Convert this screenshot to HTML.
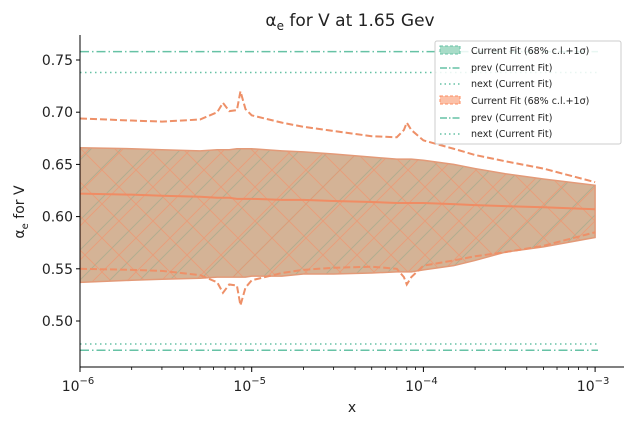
<!DOCTYPE html>
<html><head><meta charset="utf-8">
<style>
body{margin:0;background:#fff;}
svg text{font-family:"DejaVu Sans","Liberation Sans",sans-serif;fill:#222;}
</style></head>
<body>
<svg id="chart" width="633" height="425" viewBox="0 0 633 425" xmlns="http://www.w3.org/2000/svg">
<defs>
<pattern id="hatchG" patternUnits="userSpaceOnUse" width="30" height="30">
<path d="M0,30 L30,0 M-6,6 L6,-6 M24,36 L36,24" stroke="#9aa88a" stroke-width="1" opacity="0.6"/>
</pattern>
<pattern id="hatchO" patternUnits="userSpaceOnUse" width="34" height="34">
<path d="M0,34 L34,0 M-6,6 L6,-6 M28,40 L40,28 M0,0 L34,34 M-6,28 L6,40 M28,-6 L40,6" stroke="#ee9570" stroke-width="1" opacity="0.7"/>
</pattern>
<clipPath id="plotclip"><rect x="80" y="20" width="544" height="347"/></clipPath>
</defs>
<text x="350" y="26" font-size="17" text-anchor="middle">α<tspan font-size="12" dy="4">e</tspan><tspan dy="-4"> for V at 1.65 Gev</tspan></text>
<g id="plot" clip-path="url(#plotclip)"></g>
<g id="axes"></g>
<text x="352" y="412" font-size="14" text-anchor="middle">x</text>
<text transform="translate(24,212) rotate(-90)" font-size="14" text-anchor="middle">α<tspan font-size="10" dy="4">e</tspan><tspan dy="-4"> for V</tspan></text>
<g id="legend">
<rect x="435" y="41" width="186" height="103" fill="#fff" fill-opacity="0.85" stroke="#ccc" rx="2"/>
<rect x="440" y="46" width="20" height="8" fill="#a8dcc8" stroke="#66c2a5" stroke-dasharray="3,2"/>
<text x="471" y="54" font-size="9.5">Current Fit (68% c.l.+1σ)</text>
<line x1="440" y1="68" x2="460" y2="68" stroke="#66c2a5" stroke-width="1.5" stroke-dasharray="7,2,1.5,2"/>
<text x="471" y="71" font-size="9.5">prev (Current Fit)</text>
<line x1="440" y1="84" x2="460" y2="84" stroke="#66c2a5" stroke-width="1.5" stroke-dasharray="1.5,3"/>
<text x="471" y="87" font-size="9.5">next (Current Fit)</text>
<rect x="440" y="96" width="20" height="8" fill="#fcc1a8" stroke="#fc8d62" stroke-dasharray="3,2"/>
<text x="471" y="104" font-size="9.5">Current Fit (68% c.l.+1σ)</text>
<line x1="440" y1="118" x2="460" y2="118" stroke="#66c2a5" stroke-width="1.5" stroke-dasharray="7,2,1.5,2"/>
<text x="471" y="121" font-size="9.5">prev (Current Fit)</text>
<line x1="440" y1="134" x2="460" y2="134" stroke="#66c2a5" stroke-width="1.5" stroke-dasharray="1.5,3"/>
<text x="471" y="137" font-size="9.5">next (Current Fit)</text>
</g>
</svg>
<script>
const xs      = [1e-6,2e-6,3e-6,5e-6,6.3e-6,6.8e-6,7.4e-6,8.2e-6,8.6e-6,9.2e-6,1e-5,1.5e-5,2e-5,3e-5,5e-5,7e-5,7.7e-5,8e-5,8.5e-5,1e-4,1.5e-4,2e-4,3e-4,5e-4,1e-3];
const bandHi  = [0.666,0.665,0.664,0.663,0.664,0.664,0.664,0.665,0.665,0.665,0.665,0.663,0.662,0.660,0.657,0.655,0.655,0.655,0.655,0.654,0.650,0.646,0.641,0.636,0.630];
const bandLo  = [0.537,0.539,0.540,0.541,0.542,0.542,0.542,0.542,0.542,0.542,0.543,0.543,0.545,0.545,0.546,0.547,0.547,0.547,0.547,0.549,0.553,0.558,0.566,0.571,0.580];
const central = [0.622,0.621,0.620,0.619,0.618,0.618,0.618,0.617,0.617,0.617,0.617,0.616,0.616,0.615,0.614,0.613,0.613,0.613,0.613,0.613,0.612,0.611,0.610,0.609,0.607];
const dashHi  = [0.694,0.692,0.691,0.693,0.700,0.709,0.701,0.702,0.720,0.703,0.697,0.690,0.686,0.682,0.677,0.676,0.683,0.690,0.683,0.673,0.665,0.659,0.653,0.646,0.633];
const dashLo  = [0.550,0.549,0.548,0.544,0.537,0.527,0.535,0.534,0.515,0.532,0.539,0.546,0.549,0.551,0.552,0.550,0.542,0.535,0.542,0.553,0.558,0.562,0.566,0.572,0.585];
const refPrev = [0.758,0.472];
const refNext = [0.738,0.478];
const yTicks  = [0.50,0.55,0.60,0.65,0.70,0.75];
const yTickLabels = ["0.50","0.55","0.60","0.65","0.70","0.75"];
const xDecades = [-6,-5,-4,-3];

const NS="http://www.w3.org/2000/svg";
function X(v){return 80+(Math.log10(v)+6)*171.7;}
function Y(v){return 60+(0.75-v)*1044;}
function mk(tag,attrs,parent){const e=document.createElementNS(NS,tag);for(const k in attrs)e.setAttribute(k,attrs[k]);parent.appendChild(e);return e;}
const plot=document.getElementById('plot');
const axes=document.getElementById('axes');

refPrev.forEach(v=>{
  const l=mk('line',{x1:80,x2:598,y1:Y(v),y2:Y(v),stroke:'#66c2a5','stroke-width':1.5,'stroke-dasharray':'9,3,1.5,3'},plot);
  
  
});
refNext.forEach(v=>{
  const l=mk('line',{x1:80,x2:598,y1:Y(v),y2:Y(v),stroke:'#66c2a5','stroke-width':1.5,'stroke-dasharray':'1.5,3.5'},plot);
  
  
});

let d='M'+xs.map((x,i)=>X(x)+','+Y(bandHi[i])).join(' L');
for(let i=xs.length-1;i>=0;i--) d+=' L'+X(xs[i])+','+Y(bandLo[i]);
d+=' Z';
const b1=mk('path',{d:d,fill:'#d4b396',stroke:'none'},plot);


mk('path',{d:d,fill:'url(#hatchG)'},plot);
const b2=mk('path',{d:d,fill:'url(#hatchO)',stroke:'#e39a78','stroke-width':1.5},plot);



function line(arr,attrs,name){
  const p=mk('path',Object.assign({d:'M'+xs.map((x,i)=>X(x)+','+Y(arr[i])).join(' L'),fill:'none'},attrs),plot);
  
  
}
line(central,{stroke:'#f08c64','stroke-width':2},'central-line');
line(dashHi,{stroke:'#ee9068','stroke-width':2,'stroke-dasharray':'7,3'},'upper-dashed');
line(dashLo,{stroke:'#ee9068','stroke-width':2,'stroke-dasharray':'7,3'},'lower-dashed');

mk('line',{x1:80,x2:80,y1:35,y2:367,stroke:'#000','stroke-width':1},axes);
mk('line',{x1:80,x2:624,y1:367,y2:367,stroke:'#000','stroke-width':1},axes);
yTicks.forEach((v,i)=>{
  mk('line',{x1:76,x2:80,y1:Y(v),y2:Y(v),stroke:'#000'},axes);
  const t=mk('text',{x:73,y:Y(v)+5,'font-size':14,'text-anchor':'end'},axes);
  t.textContent=yTickLabels[i];
  
  
});
xDecades.forEach(e=>{
  const x=X(Math.pow(10,e));
  mk('line',{x1:x,x2:x,y1:367,y2:372,stroke:'#000'},axes);
  const t=mk('text',{x:x-2,y:391,'font-size':14,'text-anchor':'middle'},axes);
  t.textContent='10';
  const s=mk('tspan',{dy:-7,'font-size':10},t);
  s.textContent='−'+(-e);
  
  
  for(let k=2;k<10;k++){
    const xm=X(k*Math.pow(10,e));
    if(xm<624) mk('line',{x1:xm,x2:xm,y1:367,y2:370,stroke:'#000','stroke-width':0.8},axes);
  }
});
</script>
</body></html>
